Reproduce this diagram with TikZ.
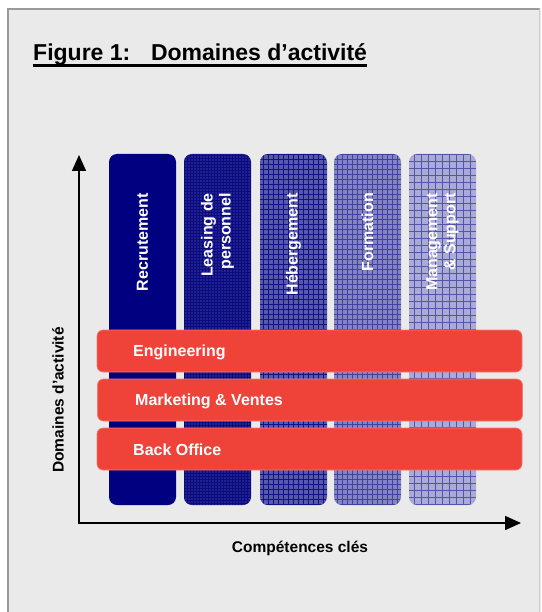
\documentclass[tikz,border=0pt]{standalone}
\usepackage{fontspec}
\setmainfont{Liberation Sans}
\usetikzlibrary{arrows.meta}
\definecolor{bggray}{HTML}{EAEAEA}
\definecolor{framegray}{HTML}{9A9A9A}
\definecolor{navyc}{HTML}{000080}
\definecolor{colB}{HTML}{22228C}
\definecolor{colC}{HTML}{5858AA}
\definecolor{colD}{HTML}{8484C2}
\definecolor{colE}{HTML}{AAAAD6}
\definecolor{barred}{HTML}{EF433A}
\tikzset{
  colbox/.style={rounded corners=8pt, minimum width=67pt, minimum height=351pt, inner sep=0pt},
  gridtex/.style n args={3}{path picture={\draw[navyc, line width=#1, draw opacity=#3] (path picture bounding box.south west) grid[step=#2] (path picture bounding box.north east);}},
  barbox/.style={rounded corners=6pt, fill=barred, draw=barred!70!white, line width=0.6pt, minimum width=425pt, minimum height=42pt, inner sep=0pt},
  barlabel/.style={anchor=west, inner sep=0pt, text=white, font=\fontsize{16}{19}\selectfont\bfseries},
  collabel/.style={rotate=90, anchor=east, inner sep=0pt, text=white, align=right, font=\fontsize{16}{18}\selectfont\bfseries},
  axis/.style={line width=1.5pt, -{Triangle[length=16pt,width=14pt]}},
  axlabel/.style={inner sep=0pt, font=\fontsize{15.5}{18}\selectfont\bfseries}
}
\begin{document}
\begin{tikzpicture}[x=1pt,y=-1pt]
\useasboundingbox (0,0) rectangle (541,612);
\fill[white] (0,0) rectangle (541,612);
\fill[bggray] (8,9) rectangle (541,620);
\draw[framegray, line width=2pt] (8,625) -- (8,9) -- (540,9);
\draw[framegray!50!white, line width=0.8pt] (539.6,9) -- (539.6,625);
% title
\node[anchor=base west, inner sep=0pt, font=\fontsize{23}{27}\selectfont\bfseries] (title) at (33,61) {Figure 1:\hspace{0.9em}Domaines d’activité};
\draw[line width=2.2pt] ([yshift=-4.5pt]title.base west) -- ([yshift=-4.5pt]title.base east);
% columns
\node[colbox, fill=navyc] (c1) at (142.5,329.5) {};
\node[colbox, fill=colB, gridtex={0.3pt}{3pt}{0.7}] (c2) at (217.5,329.5) {};
\node[colbox, fill=colC, gridtex={0.5pt}{5pt}{0.8}] (c3) at (293.5,329.5) {};
\node[colbox, fill=colD, gridtex={0.35pt}{5pt}{0.5}] (c4) at (367.5,329.5) {};
\node[colbox, fill=colE, gridtex={0.35pt}{7pt}{0.5}] (c5) at (442.5,329.5) {};
\node[collabel] (l1) at (142.5,193) {Recrutement};
\node[collabel] (l2) at (217.5,193) {Leasing de\\personnel};
\node[collabel] (l3) at (293.5,193) {Hébergement};
\node[collabel] (l4) at (367.5,193) {Formation};
\node[collabel] (l5) at (442.5,193) {Management\\\& Support};
% bars
\node[barbox] (b1) at (309.5,351) {};
\node[barbox] (b2) at (310,400) {};
\node[barbox] (b3) at (309.5,449) {};
\node[barlabel] (t1) at (133,352) {Engineering};
\node[barlabel] (t2) at (135,401) {Marketing \& Ventes};
\node[barlabel] (t3) at (133,450) {Back Office};
% axes
\coordinate (origin) at (79,523);
\coordinate (ytip) at (79,155);
\coordinate (xtip) at (521,523);
\draw[axis] ([xshift=-0.75pt]origin) -- (xtip);
\draw[axis] ([yshift=-0.75pt]origin) -- (ytip);
\node[axlabel] (xl) at (300,548) {Compétences clés};
\node[axlabel, rotate=90] (yl) at (58,400) {Domaines d’activité};
\end{tikzpicture}
\end{document}
